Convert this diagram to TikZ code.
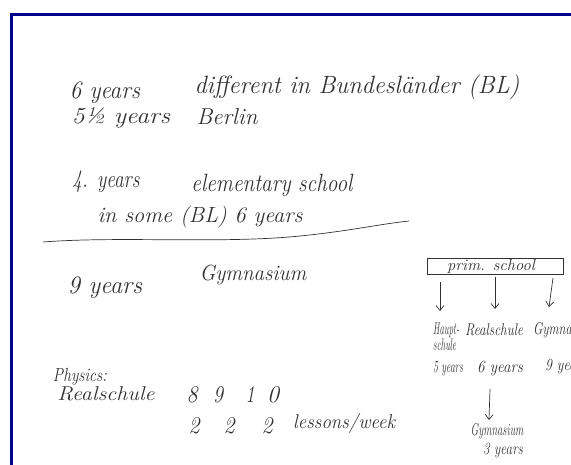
\documentclass[tikz,border=0pt]{standalone}
\usepackage{fontspec}
\usepackage{graphicx}
\usetikzlibrary{arrows.meta}
\definecolor{frameblue}{RGB}{0,0,140}
\definecolor{ink}{RGB}{50,50,50}
% font size, target width, text: natural height kept, width stretched
\newcommand{\hw}[3]{{\fontsize{#1pt}{#1pt}\selectfont\resizebox{#2pt}{\height}{#3}}}
\begin{document}
\begin{tikzpicture}[x=1pt,y=-1pt,
  hand/.style={inner sep=0pt, text=ink, font=\itshape},
  arr/.style={draw=ink, line width=0.7pt, -{Straight Barb[length=5pt,width=8pt]}},
  primbox/.style={draw=ink, line width=0.7pt, minimum width=136pt, minimum height=16pt, inner sep=0pt, text=ink, font=\itshape}]
\useasboundingbox (0,0) rectangle (571,464);
\clip (0,0) rectangle (571,464);
\fill[white] (0,0) rectangle (571,464);
% frame
\draw[frameblue, line width=3pt] (11.5,480) -- (11.5,14.5) -- (590,14.5);

% top notes
\node[hand] (t6y)    at (105,93)  {\hw{25}{70}{6 years}};
\node[hand] (tdiff)  at (357,87)  {\hw{25}{325}{different in Bundesländer (BL)}};
\node[hand] (t55)    at (121,118) {\hw{23}{98}{5½ years}};
\node[hand] (tber)   at (227,117) {\hw{23}{61}{Berlin}};
\node[hand] (t4y)    at (106,182) {\hw{25}{67}{4. years}};
\node[hand] (telem)  at (272,185) {\hw{25}{161}{elementary school}};
\node[hand] (tsome)  at (200,217) {\hw{22}{205}{in some (BL) 6 years}};

% separating line
\coordinate (ls) at (43,242);
\coordinate (le) at (409,221);
\draw[ink, line width=0.7pt] (ls) .. controls (120,236) and (220,244) .. (300,236)
  .. controls (350,231) and (380,224) .. (le);

% middle
\node[hand] (t9y)  at (105,288) {\hw{25}{74}{9 years}};
\node[hand] (tgym) at (253,275) {\hw{22}{107}{Gymnasium}};

% right scheme
\node[primbox] (prim) at (495,266) {\hspace*{-8pt}\hw{16}{88}{prim. school}};
\coordinate (a1s) at (440,282); \coordinate (a1e) at (440,311);
\coordinate (a2s) at (495,277); \coordinate (a2e) at (495,309);
\coordinate (a3s) at (553,278); \coordinate (a3e) at (549,307);
\draw[arr] (a1s) -- (a1e);
\draw[arr] (a2s) -- (a2e);
\draw[arr] (a3s) -- (a3e);

\node[hand, align=left, anchor=north west, font=\itshape\fontsize{17pt}{14pt}\selectfont] (haupt) at (433,323) {\hw{17}{26}{Haupt-}\\\hw{17}{23}{schule}};
\node[hand] (real) at (494,330) {\hw{17}{58}{Realschule}};
\node[hand, anchor=west] (gymr) at (533,330) {\hw{17}{64}{Gymnasium}};
\node[hand] (y5) at (448,369) {\hw{17}{30}{5 years}};
\node[hand] (y6) at (500,369) {\hw{17}{46}{6 years}};
\node[hand, anchor=west] (y9) at (545,367) {\hw{17}{42}{9 years}};

\coordinate (a4s) at (490,389); \coordinate (a4e) at (489,420);
\draw[arr] (a4s) -- (a4e);
\node[hand] (gymb) at (497,431) {\hw{17}{53}{Gymnasium}};
\node[hand] (y3) at (503,451) {\hw{17}{40}{3 years}};

% physics
\node[hand] (phys)  at (80,377)  {\hw{19}{54}{Physics:}};
\node[hand] (realL) at (106,394) {\hw{20}{97}{Realschule}};
\node[hand] (n8) at (192,395) {\hw{24}{11}{8}};
\node[hand] (n9) at (218,395) {\hw{24}{10}{9}};
\node[hand] (n1) at (250,395) {\hw{24}{9}{1}};
\node[hand] (n0) at (273,395) {\hw{24}{12}{0}};
\node[hand] (w8)  at (194,426) {\hw{24}{11}{2}};
\node[hand] (w9)  at (229,426) {\hw{24}{11}{2}};
\node[hand] (w10) at (267,426) {\hw{24}{11}{2}};
\node[hand, anchor=west] (lw) at (293,423) {\hw{20}{102}{lessons/week}};
\end{tikzpicture}
\end{document}
